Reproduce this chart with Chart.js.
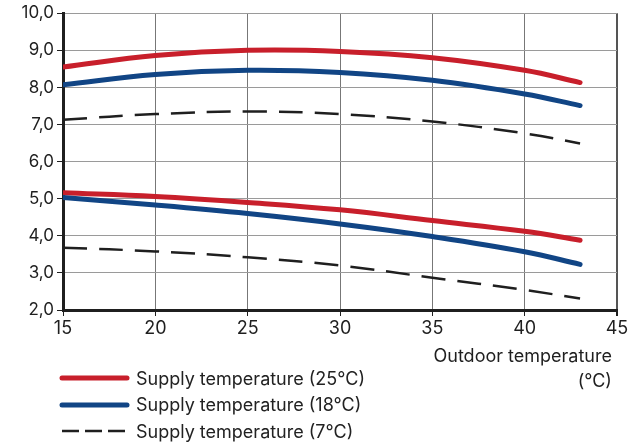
<!DOCTYPE html>
<html>
<head>
<meta charset="utf-8">
<script src="https://cdn.jsdelivr.net/npm/chart.js@4.4.1/dist/chart.umd.min.js"></script>
<style>
  body { margin: 0; background: #fff; }
  #wrap { position: relative; width: 643px; height: 446px; }
  #legend { position: absolute; left: 59px; top: 365px; font-family: "Inter", sans-serif; font-size: 18px; color: #222; }
  .row { height: 26.5px; display: flex; align-items: center; }
  .row svg { margin-right: 5px; }
</style>
</head>
<body>
<div id="wrap">
  <canvas id="tempChart" width="643" height="446"></canvas>
  <div id="legend"></div>
</div>
<script>
// ======= Data =======
const outdoorTemps = [15, 20, 25, 30, 35, 40, 43];
const yTicks = [2, 3, 4, 5, 6, 7, 8, 9, 10];

const red25High = [8.55, 8.86, 9.0, 8.97, 8.8, 8.46, 8.13];
const blue18High = [8.07, 8.35, 8.46, 8.40, 8.19, 7.82, 7.51];
const black7High = [7.13, 7.28, 7.35, 7.28, 7.08, 6.76, 6.49];
const red25Low = [5.16, 5.06, 4.9, 4.70, 4.41, 4.12, 3.88];
const blue18Low = [5.03, 4.83, 4.6, 4.32, 3.98, 3.57, 3.23];
const black7Low = [3.68, 3.58, 3.42, 3.20, 2.87, 2.54, 2.31];

const seriesLabels = ["Supply temperature (25°C)", "Supply temperature (18°C)", "Supply temperature (7°C)"];

const RED = "#c81f2b";
const BLUE = "#114585";
const BLACK = "#1f1f1f";
const FONT = "Inter";

function toPoints(arr) {
  return arr.map((v, i) => ({ x: outdoorTemps[i], y: v }));
}

function lineSet(arr, color, dashed) {
  return {
    data: toPoints(arr),
    borderColor: color,
    borderWidth: dashed ? 2.5 : 5,
    borderDash: dashed ? [24, 12] : [],
    borderCapStyle: dashed ? "butt" : "round",
    pointRadius: 0,
    tension: 0.4,
    fill: false
  };
}

const ctx = document.getElementById("tempChart").getContext("2d");
const tempChart = new Chart(ctx, {
  type: "line",
  data: {
    datasets: [
      lineSet(black7High, BLACK, true),
      lineSet(black7Low, BLACK, true),
      lineSet(blue18High, BLUE, false),
      lineSet(blue18Low, BLUE, false),
      lineSet(red25High, RED, false),
      lineSet(red25Low, RED, false)
    ]
  },
  options: {
    responsive: false,
    animation: false,
    layout: { padding: { top: 12, right: 26, left: 0, bottom: 0 } },
    plugins: { legend: { display: false }, tooltip: { enabled: false } },
    scales: {
      x: {
        type: "linear",
        min: 15,
        max: 45,
        afterFit: (s) => { s.height = 136; },
        ticks: { stepSize: 5, color: BLACK, font: { family: FONT, size: 18 }, padding: 2 },
        grid: {
          color: (c) => c.tick && c.tick.value === 45 ? "#555" : "#777",
          lineWidth: (c) => c.tick && c.tick.value === 45 ? 2 : 1,
          tickLength: 6,
          tickColor: BLACK
        },
        border: { color: BLACK, width: 3 },
        title: {
          display: true,
          text: ["Outdoor temperature ", "(°C) "],
          align: "end",
          color: BLACK,
          font: { family: FONT, size: 18, lineHeight: "25px" },
          padding: { top: 0, bottom: 52 }
        }
      },
      y: {
        min: 2,
        max: 10,
        afterFit: (s) => { s.width = 63; },
        afterBuildTicks: (s) => { s.ticks = yTicks.map(v => ({ value: v })); },
        ticks: {
          color: BLACK,
          font: { family: FONT, size: 17 },
          padding: 3,
          callback: (v) => v.toFixed(1).replace(".", ",")
        },
        grid: { color: "#9a9a9a", lineWidth: 1, tickLength: 6, tickColor: BLACK },
        border: { color: BLACK, width: 3 }
      }
    }
  }
});

// ======= Legend =======
const legendStyles = [
  { color: RED, width: 5, dash: "" },
  { color: BLUE, width: 5, dash: "" },
  { color: BLACK, width: 2.5, dash: "17,6" }
];
const legendDiv = document.getElementById("legend");
legendDiv.innerHTML = seriesLabels.map((label, i) => {
  const st = legendStyles[i];
  const cap = st.dash ? "butt" : "round";
  return `<div class="row"><svg width="72" height="10"><line x1="3" y1="5" x2="68" y2="5" stroke="${st.color}" stroke-width="${st.width}" stroke-linecap="${cap}" stroke-dasharray="${st.dash}"/></svg>${label}</div>`;
}).join("");
</script>
</body>
</html>
